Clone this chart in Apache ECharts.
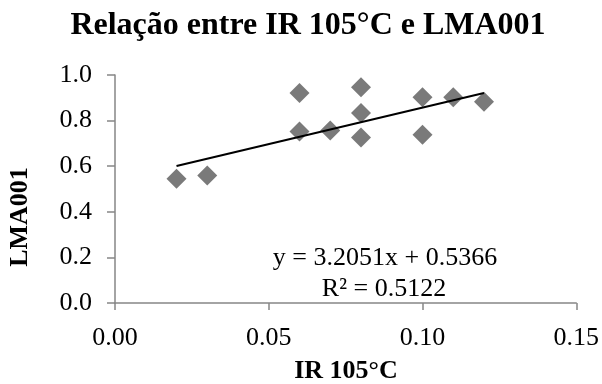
<!DOCTYPE html>
<html>
<head>
<meta charset="utf-8">
<script src="https://cdn.jsdelivr.net/npm/echarts@6/dist/echarts.min.js"></script>
<style>
html,body{margin:0;padding:0;background:#fff;}
#chart{width:602px;height:384px;}
</style>
</head>
<body>
<div id="chart"></div>
<script>
var titleText = 'Relação entre IR 105°C e LMA001';
var xAxisTitle = 'IR 105°C';
var yAxisTitle = 'LMA001';
var irValues  = [0.02, 0.03, 0.06, 0.06, 0.07, 0.08, 0.08, 0.08, 0.10, 0.10, 0.11, 0.12];
var lmaValues = [0.545, 0.559, 0.921, 0.752, 0.757, 0.946, 0.833, 0.726, 0.902, 0.738, 0.902, 0.883];
var trendSlope = 3.2051;
var trendIntercept = 0.5366;
var rSquared = 0.5122;
var equationText = 'y = 3.2051x + 0.5366';
var r2Text = 'R² = 0.5122';

var points = irValues.map(function (x, i) { return [x, lmaValues[i]]; });
var xMin = Math.min.apply(null, irValues), xMax = Math.max.apply(null, irValues);
var trendData = [[xMin, trendIntercept + trendSlope * xMin], [xMax, trendIntercept + trendSlope * xMax]];

var FONT = '"Liberation Serif", "Times New Roman", serif';
var chart = echarts.init(document.getElementById('chart'));
chart.setOption({
  backgroundColor: '#ffffff',
  animation: false,
  grid: { left: 115, right: 25, top: 75, bottom: 81, containLabel: false },
  xAxis: {
    type: 'value', min: 0, max: 0.15, interval: 0.05,
    splitLine: { show: false },
    axisLine: { show: true, lineStyle: { color: '#868686', width: 1.5 } },
    axisTick: { show: true, length: 7, lineStyle: { color: '#868686', width: 1.5 } },
    axisLabel: { color: '#000', fontFamily: FONT, fontSize: 26, margin: 22,
      formatter: function (v) { return v.toFixed(2); } }
  },
  yAxis: {
    type: 'value', min: 0, max: 1, interval: 0.2,
    splitLine: { show: false },
    axisLine: { show: true, lineStyle: { color: '#868686', width: 1.5 } },
    axisTick: { show: true, length: 8, lineStyle: { color: '#868686', width: 1.5 } },
    axisLabel: { color: '#000', fontFamily: FONT, fontSize: 26, margin: 23,
      formatter: function (v) { return v.toFixed(1); } }
  },
  series: [
    { type: 'scatter', data: points, symbol: 'diamond', symbolSize: 20,
      itemStyle: { color: '#595959' }, z: 2 },
    { type: 'line', data: trendData, showSymbol: false, symbol: 'none',
      lineStyle: { color: '#000', width: 2 }, z: 3 }
  ],
  graphic: [
    { type: 'text', x: 308, y: 26, style: { text: titleText, fontFamily: FONT, fontSize: 32, fontWeight: 'bold', fill: '#000', align: 'center', verticalAlign: 'middle' } },
    { type: 'text', x: 346, y: 371, style: { text: xAxisTitle, fontFamily: FONT, fontSize: 26, fontWeight: 'bold', fill: '#000', align: 'center', verticalAlign: 'middle' } },
    { type: 'text', x: 20, y: 217, rotation: Math.PI / 2, style: { text: yAxisTitle, fontFamily: FONT, fontSize: 26, fontWeight: 'bold', fill: '#000', align: 'center', verticalAlign: 'middle' } },
    { type: 'text', x: 385, y: 258, style: { text: equationText, fontFamily: FONT, fontSize: 26, fill: '#000', align: 'center', verticalAlign: 'middle' } },
    { type: 'text', x: 384, y: 289, style: { text: r2Text, fontFamily: FONT, fontSize: 26, fill: '#000', align: 'center', verticalAlign: 'middle' } }
  ]
});
</script>
</body>
</html>
